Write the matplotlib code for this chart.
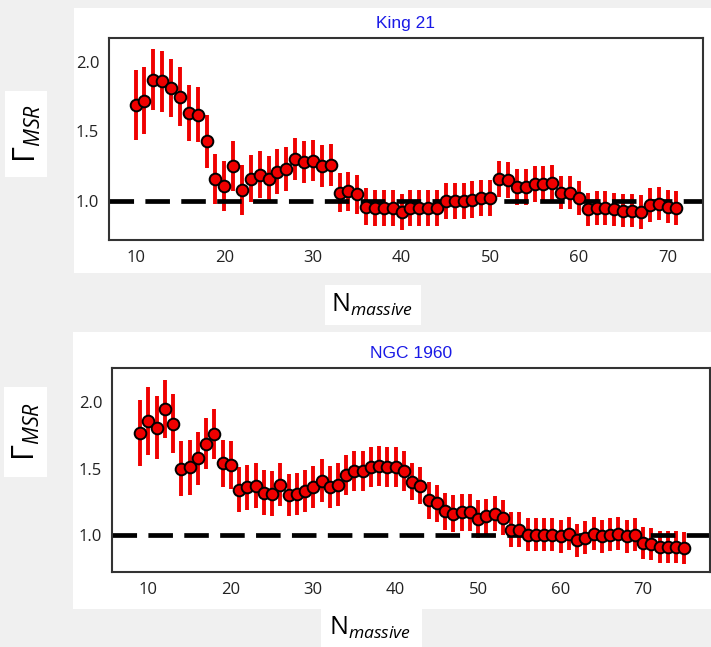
import numpy as np
import matplotlib
matplotlib.use("Agg")
import matplotlib.pyplot as plt
from matplotlib.patches import Rectangle

# ── Data ───────────────────────────────────────────────────────────────────────

king21_n = list(range(10, 72))
king21_gamma = [
    1.69, 1.72, 1.87, 1.86, 1.81, 1.75, 1.63, 1.62, 1.43, 1.16,
    1.11, 1.25, 1.08, 1.16, 1.19, 1.16, 1.21, 1.23, 1.30, 1.28,
    1.29, 1.25, 1.26, 1.06, 1.07, 1.05, 0.96, 0.95, 0.95, 0.95,
    0.92, 0.95, 0.95, 0.95, 0.95, 1.00, 1.00, 1.00, 1.01, 1.02,
    1.02, 1.16, 1.15, 1.10, 1.10, 1.12, 1.12, 1.13, 1.06, 1.06,
    1.02, 0.94, 0.95, 0.95, 0.94, 0.93, 0.93, 0.92, 0.97, 0.98,
    0.96, 0.95,
]
king21_err = [
    0.25, 0.24, 0.22, 0.22, 0.21, 0.21, 0.20, 0.20, 0.19, 0.18,
    0.18, 0.18, 0.18, 0.17, 0.17, 0.16, 0.16, 0.16, 0.15, 0.15,
    0.15, 0.15, 0.15, 0.14, 0.14, 0.14, 0.13, 0.13, 0.13, 0.13,
    0.13, 0.13, 0.13, 0.13, 0.13, 0.13, 0.13, 0.13, 0.13, 0.13,
    0.13, 0.13, 0.13, 0.13, 0.13, 0.13, 0.13, 0.13, 0.12, 0.12,
    0.12, 0.12, 0.12, 0.12, 0.12, 0.12, 0.12, 0.12, 0.12, 0.12,
    0.12, 0.12,
]

ngc1960_n = list(range(9, 76))
ngc1960_gamma = [
    1.77, 1.86, 1.81, 1.95, 1.84, 1.50, 1.51, 1.58, 1.69, 1.76,
    1.54, 1.53, 1.34, 1.36, 1.37, 1.32, 1.31, 1.38, 1.30, 1.31,
    1.33, 1.36, 1.41, 1.36, 1.38, 1.45, 1.48, 1.48, 1.51, 1.52,
    1.51, 1.51, 1.48, 1.40, 1.37, 1.26, 1.24, 1.18, 1.16, 1.17,
    1.17, 1.12, 1.14, 1.16, 1.13, 1.04, 1.04, 1.00, 1.00, 1.00,
    1.00, 0.99, 1.01, 0.96, 0.98, 1.01, 0.99, 1.00, 1.01, 0.99,
    1.00, 0.94, 0.93, 0.91, 0.91, 0.91, 0.90,
]
ngc1960_err = [
    0.25, 0.26, 0.24, 0.22, 0.22, 0.21, 0.21, 0.20, 0.19, 0.19,
    0.18, 0.18, 0.17, 0.17, 0.17, 0.17, 0.17, 0.165, 0.16, 0.16,
    0.16, 0.16, 0.16, 0.16, 0.16, 0.15, 0.15, 0.15, 0.15, 0.15,
    0.15, 0.15, 0.15, 0.14, 0.14, 0.14, 0.14, 0.14, 0.14, 0.14,
    0.14, 0.14, 0.13, 0.13, 0.13, 0.13, 0.13, 0.125, 0.125, 0.125,
    0.125, 0.125, 0.125, 0.125, 0.125, 0.125, 0.125, 0.125, 0.125, 0.125,
    0.125, 0.12, 0.12, 0.12, 0.12, 0.12, 0.12,
]

# ── Layout (pixel boxes of the reference, 711 x 647) ──────────────────────────

W, H = 711, 647
BG = "#f0f0f0"

plt.rcParams["mathtext.fontset"] = "custom"
plt.rcParams["mathtext.rm"] = "Open Sans"
plt.rcParams["mathtext.it"] = "Open Sans:italic"


def px_box(x0, y0, x1, y1):
    """pixel box (top-left origin) -> figure fraction [l, b, w, h]"""
    return [x0 / W, 1 - y1 / H, (x1 - x0) / W, (y1 - y0) / H]


def white_box(fig, x0, y0, x1, y1):
    l, b, w, h = px_box(x0, y0, x1, y1)
    fig.patches.append(Rectangle((l, b), w, h, transform=fig.transFigure,
                                 facecolor="white", edgecolor="none", zorder=-5))


def draw_panel(ax, n, gamma, err, title, xlim, ylim):
    ax.errorbar(n, gamma, yerr=err, fmt="none", ecolor="#f00000",
                elinewidth=2.8, capsize=0, zorder=1)
    ax.axhline(1.0, color="black", linewidth=3.4,
               linestyle=(0, (5.2, 2.4)), zorder=2)
    ax.plot(n, gamma, linestyle="none", marker="o", markersize=8.4,
            markerfacecolor="#f00000", markeredgecolor="black",
            markeredgewidth=1.4, zorder=3)
    ax.set_xlim(*xlim)
    ax.set_ylim(*ylim)
    ax.set_xticks([10, 20, 30, 40, 50, 60, 70])
    ax.set_yticks([1.0, 1.5, 2.0])
    ax.yaxis.set_major_formatter(matplotlib.ticker.FormatStrFormatter("%.1f"))
    ax.tick_params(length=0, labelsize=12, colors="#222222", pad=7)
    for lab in ax.get_xticklabels() + ax.get_yticklabels():
        lab.set_fontfamily("Open Sans")
    for sp in ax.spines.values():
        sp.set_color("#333333")
        sp.set_linewidth(1.5)
    ax.set_title(title, color="#1a1ae6", fontsize=12.5, pad=7,
                 fontfamily="Liberation Sans")


fig = plt.figure(figsize=(W / 100, H / 100), dpi=100, facecolor=BG)

# white backing panels
white_box(fig, 74, 8, 711, 273)
white_box(fig, 73, 332, 711, 609)
white_box(fig, 5, 91, 47, 177)
white_box(fig, 4, 387, 47, 477)
white_box(fig, 325, 285, 421, 325)
white_box(fig, 321, 609, 422, 647)

ax_top = fig.add_axes(px_box(109, 38, 703, 240))
draw_panel(ax_top, king21_n, king21_gamma, king21_err, "King 21",
           (7.0, 74.0), (0.72, 2.17))

ax_bot = fig.add_axes(px_box(112, 368, 710, 572))
draw_panel(ax_bot, ngc1960_n, ngc1960_gamma, ngc1960_err, "NGC 1960",
           (5.6, 78.1), (0.72, 2.26))

# axis labels sit in their own white boxes
ylab = r"$\Gamma_{MSR}$"
xlab = r"$\mathrm{N}_{massive}$"
fig.text(27 / W, 1 - 134 / H, ylab, rotation=90, ha="center", va="center",
         fontsize=22, color="black")
fig.text(26 / W, 1 - 432 / H, ylab, rotation=90, ha="center", va="center",
         fontsize=22, color="black")
fig.text(372 / W, 1 - 305 / H, xlab, ha="center", va="center",
         fontsize=18, color="black")
fig.text(370 / W, 1 - 628 / H, xlab, ha="center", va="center",
         fontsize=18, color="black")

fig.savefig("out.png", dpi=100, facecolor=BG)
